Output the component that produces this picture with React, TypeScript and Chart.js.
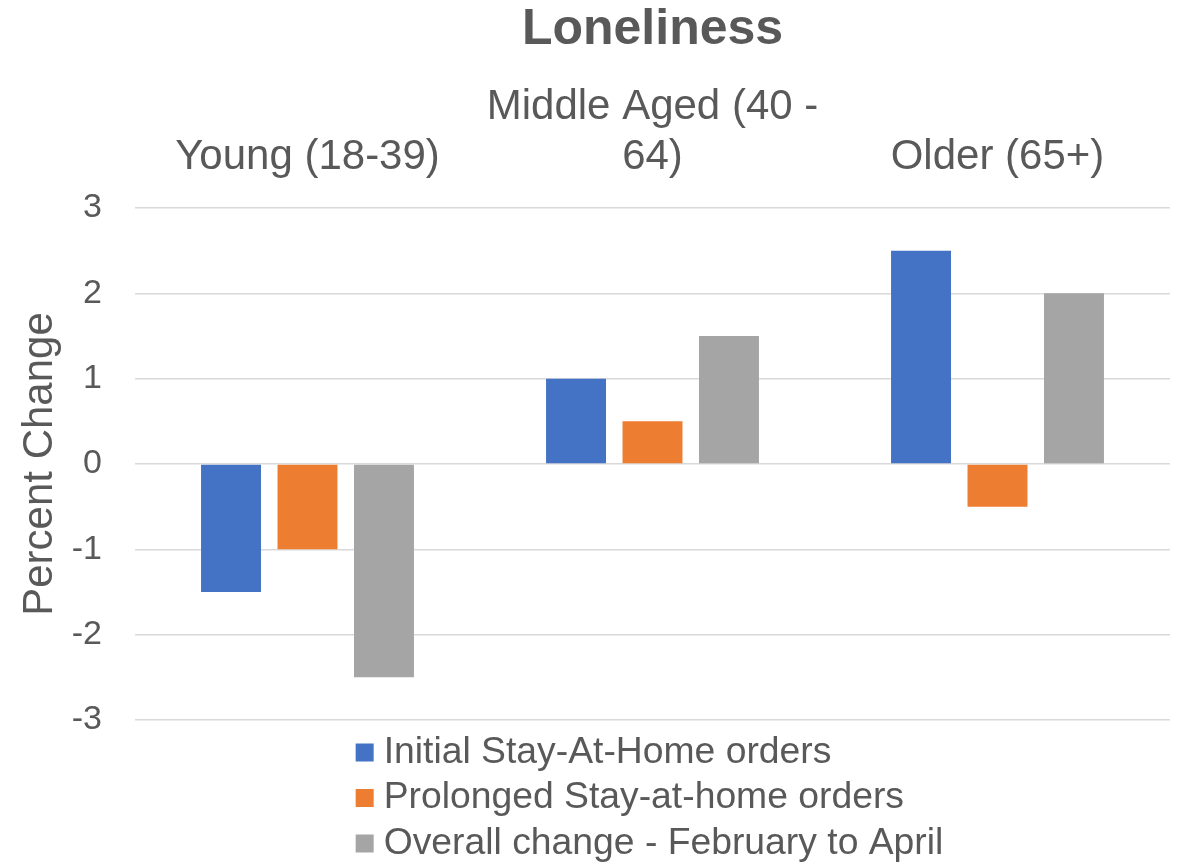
import { useEffect, useRef } from "react";
import { Chart, registerables } from "chart.js";

Chart.register(...registerables);

// Age groups along the top axis (the middle one wraps onto two lines)
const categories: (string | string[])[] = [
  "Young (18-39)",
  ["Middle Aged (40 -", "64)"],
  "Older (65+)",
];

// Percent change in loneliness for each period
const initialOrders = [-1.5, 1, 2.5];
const prolongedOrders = [-1, 0.5, -0.5];
const overallChange = [-2.5, 1.5, 2];

const seriesNames = [
  "Initial Stay-At-Home orders",
  "Prolonged Stay-at-home orders",
  "Overall change - February to April",
];
const seriesColors = ["#4472C4", "#ED7D31", "#A5A5A5"];

const yMin = -3;
const yMax = 3;
const yStep = 1;

const FONT = '"Liberation Sans", Arial, sans-serif';
const TEXT = "#595959";
const GRID = "#D9D9D9";

// Legend stacked one entry per row, block centred under the plot area
const stackedLegend = {
  id: "stackedLegend",
  afterDraw(chart: any) {
    const { ctx, chartArea } = chart;
    const box = 18;
    const gap = 10;
    const firstRow = 32.5;
    const rowGap = 45.5;
    ctx.save();
    ctx.font = `37.3px ${FONT}`;
    const widths = chart.data.datasets.map((d: any) => ctx.measureText(d.label).width);
    const blockW = box + gap + Math.max(...widths);
    const left = (chartArea.left + chartArea.right) / 2 - blockW / 2 - 3;
    ctx.textBaseline = "middle";
    ctx.textAlign = "left";
    chart.data.datasets.forEach((d: any, i: number) => {
      const cy = chartArea.bottom + firstRow + i * rowGap;
      ctx.fillStyle = d.backgroundColor;
      ctx.fillRect(left, cy - box / 2, box, box);
      ctx.fillStyle = TEXT;
      ctx.fillText(d.label, left + box + gap, cy);
    });
    ctx.restore();
  },
};

export default function App() {
  const canvasRef = useRef<HTMLCanvasElement | null>(null);

  useEffect(() => {
    if (!canvasRef.current) return;
    const seriesValues = [initialOrders, prolongedOrders, overallChange];
    const chart = new Chart(canvasRef.current, {
      type: "bar",
      data: {
        labels: categories,
        datasets: seriesValues.map((values, i) => ({
          label: seriesNames[i],
          data: values,
          backgroundColor: seriesColors[i],
          borderWidth: 0,
          categoryPercentage: 0.665,
          barPercentage: 0.784,
        })),
      },
      options: {
        animation: false,
        responsive: false,
        maintainAspectRatio: false,
        layout: { padding: { top: 0, right: 12, bottom: 142, left: 0 } },
        plugins: {
          legend: { display: false },
          tooltip: { enabled: false },
          title: {
            display: true,
            text: "Loneliness",
            color: TEXT,
            fullSize: false,
            font: { family: FONT, size: 50, weight: "bold", lineHeight: 1.2 },
            padding: { top: 0, bottom: 0 },
          },
        },
        scales: {
          x: {
            position: "top",
            grid: { display: false, drawTicks: false },
            border: { display: false },
            ticks: {
              color: TEXT,
              padding: 25,
              maxRotation: 0,
              autoSkip: false,
              font: { family: FONT, size: 42, lineHeight: 1.2 },
            },
            afterFit(scale: any) {
              scale.height = 148;
            },
          },
          y: {
            min: yMin,
            max: yMax,
            grid: { color: GRID, lineWidth: 1.5, drawTicks: false },
            border: { display: false },
            ticks: {
              stepSize: yStep,
              color: TEXT,
              padding: 33,
              font: { family: FONT, size: 34 },
            },
            title: {
              display: true,
              text: "Percent Change",
              color: TEXT,
              padding: { top: 15, bottom: 0 },
              font: { family: FONT, size: 42, lineHeight: 1.2 },
            },
            afterFit(scale: any) {
              scale.width = 135;
            },
          },
        },
      },
      plugins: [stackedLegend],
    });
    return () => chart.destroy();
  }, []);

  return (
    <div
      style={{
        position: "fixed",
        left: 0,
        top: 0,
        width: 1182,
        height: 862,
        background: "#ffffff",
      }}
    >
      <canvas ref={canvasRef} width={1182} height={862} style={{ display: "block" }} />
    </div>
  );
}
